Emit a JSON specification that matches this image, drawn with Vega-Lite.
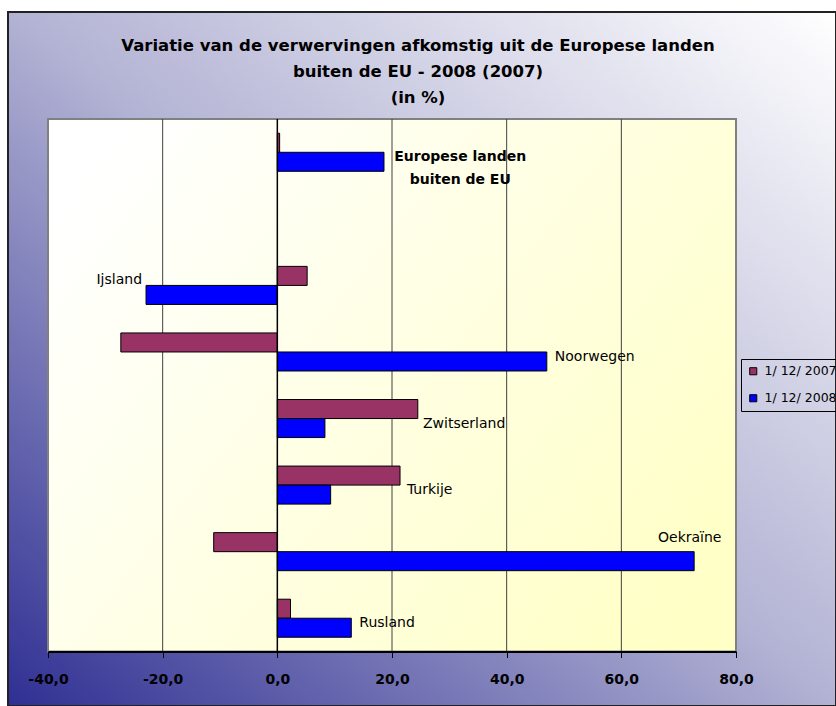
{
  "$schema": "https://vega.github.io/schema/vega-lite/v6.json",
  "width": 828,
  "height": 694,
  "padding": {"left": 8, "top": 12, "right": 0, "bottom": 0},
  "background": "white",
  "view": {
    "fill": {"gradient": "linear", "x1": 0, "y1": 1, "x2": 1, "y2": 0,
      "stops": [{"offset": 0, "color": "#2f2f93"}, {"offset": 0.5, "color": "#b2b2d4"}, {"offset": 1, "color": "#ffffff"}]},
    "stroke": "#222222",
    "strokeWidth": 2
  },
  "title": {
    "text": ["Variatie van de verwervingen afkomstig uit de Europese landen", "buiten de EU - 2008 (2007)", "(in %)"],
    "font": "DejaVu Sans",
    "fontSize": 16.5,
    "fontWeight": "bold",
    "lineHeight": 26,
    "color": "black",
    "anchor": "middle",
    "frame": "group",
    "offset": -94,
    "dx": -4
  },
  "datasets": {
    "bars": [
      {"cat": "Europese landen buiten de EU", "serie": "1/ 12/ 2007", "value": 0.4},
      {"cat": "Europese landen buiten de EU", "serie": "1/ 12/ 2008", "value": 18.6},
      {"cat": "Ijsland", "serie": "1/ 12/ 2007", "value": 5.2},
      {"cat": "Ijsland", "serie": "1/ 12/ 2008", "value": -22.9},
      {"cat": "Noorwegen", "serie": "1/ 12/ 2007", "value": -27.3},
      {"cat": "Noorwegen", "serie": "1/ 12/ 2008", "value": 47.0},
      {"cat": "Zwitserland", "serie": "1/ 12/ 2007", "value": 24.5},
      {"cat": "Zwitserland", "serie": "1/ 12/ 2008", "value": 8.3},
      {"cat": "Turkije", "serie": "1/ 12/ 2007", "value": 21.4},
      {"cat": "Turkije", "serie": "1/ 12/ 2008", "value": 9.3},
      {"cat": "Oekraïne", "serie": "1/ 12/ 2007", "value": -11.1},
      {"cat": "Oekraïne", "serie": "1/ 12/ 2008", "value": 72.7},
      {"cat": "Rusland", "serie": "1/ 12/ 2007", "value": 2.3},
      {"cat": "Rusland", "serie": "1/ 12/ 2008", "value": 12.9}
    ],
    "grid": [{"v": -20}, {"v": 20}, {"v": 40}, {"v": 60}],
    "labels": [
      {"cat": "Ijsland", "serie": "1/ 12/ 2007", "at": -23.6, "tekst": "Ijsland"},
      {"cat": "Noorwegen", "serie": "1/ 12/ 2008", "at": 48.4, "tekst": "Noorwegen"},
      {"cat": "Zwitserland", "serie": "1/ 12/ 2008", "at": 25.4, "tekst": "Zwitserland"},
      {"cat": "Turkije", "serie": "1/ 12/ 2008", "at": 22.6, "tekst": "Turkije"},
      {"cat": "Oekraïne", "serie": "1/ 12/ 2007", "at": 66.4, "tekst": "Oekraïne"},
      {"cat": "Rusland", "serie": "1/ 12/ 2008", "at": 14.3, "tekst": "Rusland"}
    ],
    "kop": [
      {"cat": "Europese landen buiten de EU", "at": 31.9, "tekst": "Europese landen\nbuiten de EU"}
    ]
  },
  "layer": [
    {
      "data": {"values": [{}]},
      "mark": {"type": "rect",
        "fill": {"gradient": "linear", "x1": 0, "y1": 0.2, "x2": 1, "y2": 0.8,
          "stops": [{"offset": 0, "color": "#ffffff"}, {"offset": 1, "color": "#ffffc6"}]},
        "stroke": "#808080", "strokeWidth": 2},
      "encoding": {
        "x": {"datum": -40, "type": "quantitative", "scale": {"domain": [-40, 80], "range": [40, 728], "nice": false, "zero": false}},
        "x2": {"datum": 80},
        "y": {"datum": "Europese landen buiten de EU", "type": "nominal", "bandPosition": 0, "axis": null},
        "y2": {"datum": "Rusland", "bandPosition": 1}
      }
    },
    {
      "data": {"name": "grid"},
      "mark": {"type": "rule", "color": "#404040", "strokeWidth": 1},
      "encoding": {
        "x": {"field": "v", "type": "quantitative"},
        "y": {"datum": "Europese landen buiten de EU", "type": "nominal", "bandPosition": 0, "axis": null},
        "y2": {"datum": "Rusland", "bandPosition": 1}
      }
    },
    {
      "data": {"name": "bars"},
      "mark": {"type": "bar", "stroke": "black", "strokeWidth": 1},
      "encoding": {
        "y": {"field": "cat", "type": "nominal", "axis": null,
          "scale": {"domain": ["Europese landen buiten de EU", " ", "Ijsland", "Noorwegen", "Zwitserland", "Turkije", "Oekraïne", "Rusland"],
            "range": [107, 639.5], "paddingInner": 0, "paddingOuter": 0}},
        "yOffset": {"field": "serie", "type": "nominal", "scale": {"paddingInner": 0, "paddingOuter": 0.75}},
        "x": {"field": "value", "type": "quantitative",
          "axis": {"orient": "bottom", "offset": -54.5, "values": [-40, -20, 0, 20, 40, 60, 80],
            "labelExpr": "replace(replace(format(datum.value, '.1f'), '.', ','), '\u2212', '-')",
            "grid": false, "domainColor": "black", "domainWidth": 2, "tickColor": "black", "tickWidth": 1, "tickSize": 6,
            "labelFont": "DejaVu Sans", "labelFontWeight": "bold", "labelFontSize": 14, "labelColor": "black",
            "labelPadding": 15, "title": null, "zindex": 1, "labelFlush": false, "labelOverlap": false}},
        "color": {"field": "serie", "type": "nominal",
          "scale": {"domain": ["1/ 12/ 2007", "1/ 12/ 2008"], "range": ["#993366", "#0000ff"]},
          "legend": {"orient": "none", "legendX": 733, "legendY": 347, "title": null, "symbolType": "square", "symbolSize": 50,
            "symbolStrokeColor": "black", "symbolStrokeWidth": 1, "labelFont": "DejaVu Sans", "labelFontSize": 12.5, "labelColor": "black",
            "labelLimit": 300, "strokeColor": "black", "padding": 6, "rowPadding": 14, "labelOffset": 5}}
      }
    },
    {
      "data": {"values": [{}]},
      "mark": {"type": "rule", "color": "black", "strokeWidth": 1.5},
      "encoding": {
        "x": {"datum": 0, "type": "quantitative"},
        "y": {"datum": "Europese landen buiten de EU", "type": "nominal", "bandPosition": 0, "axis": null},
        "y2": {"datum": "Rusland", "bandPosition": 1}
      }
    },
    {
      "data": {"name": "labels"},
      "transform": [{"filter": "datum.serie == '1/ 12/ 2008'"}],
      "mark": {"type": "text", "align": "left", "baseline": "middle", "dy": 5, "font": "DejaVu Sans", "fontSize": 14, "color": "black"},
      "encoding": {
        "x": {"field": "at", "type": "quantitative"},
        "y": {"field": "cat", "type": "nominal", "axis": null},
        "text": {"field": "tekst"}
      }
    },
    {
      "data": {"name": "labels"},
      "transform": [{"filter": "datum.serie == '1/ 12/ 2007' && datum.at < 0"}],
      "mark": {"type": "text", "align": "right", "baseline": "middle", "dy": -5.4, "font": "DejaVu Sans", "fontSize": 14, "color": "black"},
      "encoding": {
        "x": {"field": "at", "type": "quantitative"},
        "y": {"field": "cat", "type": "nominal", "axis": null},
        "text": {"field": "tekst"}
      }
    },
    {
      "data": {"name": "labels"},
      "transform": [{"filter": "datum.serie == '1/ 12/ 2007' && datum.at >= 0"}],
      "mark": {"type": "text", "align": "left", "baseline": "middle", "dy": -13.6, "font": "DejaVu Sans", "fontSize": 14, "color": "black"},
      "encoding": {
        "x": {"field": "at", "type": "quantitative"},
        "y": {"field": "cat", "type": "nominal", "axis": null},
        "text": {"field": "tekst"}
      }
    },
    {
      "data": {"name": "kop"},
      "mark": {"type": "text", "align": "center", "baseline": "middle", "dy": 5.2, "font": "DejaVu Sans", "fontSize": 14, "fontWeight": "bold", "lineHeight": 23, "lineBreak": "\n", "color": "black"},
      "encoding": {
        "x": {"field": "at", "type": "quantitative"},
        "y": {"field": "cat", "type": "nominal", "axis": null},
        "text": {"field": "tekst"}
      }
    }
  ]
}
